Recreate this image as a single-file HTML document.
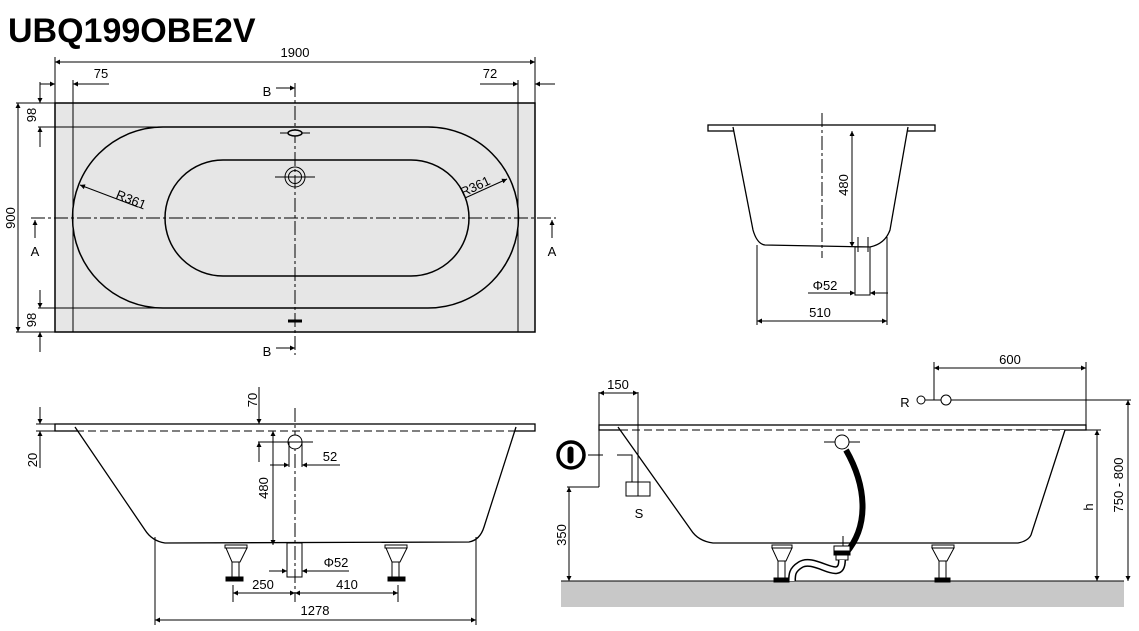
<!DOCTYPE html>
<html><head><meta charset="utf-8"><style>
html,body{margin:0;padding:0;background:#fff;}
svg{display:block;}
text{font-family:"Liberation Sans",sans-serif;font-size:13px;fill:#000;}
.t{font-family:"Liberation Sans",sans-serif;font-weight:bold;font-size:34px;}
</style></head><body>
<svg width="1139" height="631" viewBox="0 0 1139 631" xmlns="http://www.w3.org/2000/svg">
<defs>
<marker id="a" viewBox="0 0 10 10" refX="10" refY="5" markerWidth="7" markerHeight="5" orient="auto-start-reverse" markerUnits="userSpaceOnUse"><path d="M0,0 L10,5 L0,10 z" fill="#000"/></marker>
</defs>
<text x="8" y="42" class="t">UBQ199OBE2V</text>

<!-- TOP VIEW -->
<g stroke="#000" fill="none" stroke-width="1">
<rect x="55" y="103" width="480" height="229" fill="#e6e6e6" stroke-width="1.5"/>
<line x1="55" y1="57" x2="55" y2="103"/><line x1="535" y1="57" x2="535" y2="103"/>
<line x1="55" y1="62" x2="535" y2="62" marker-start="url(#a)" marker-end="url(#a)"/>
<line x1="73" y1="80" x2="73" y2="332"/><line x1="518" y1="80" x2="518" y2="332"/>
<line x1="40" y1="84" x2="55" y2="84" marker-end="url(#a)"/><line x1="109" y1="84" x2="73" y2="84" marker-end="url(#a)"/>
<line x1="480" y1="84" x2="518" y2="84" marker-end="url(#a)"/><line x1="555" y1="84" x2="535" y2="84" marker-end="url(#a)"/>
<path d="M163 127 H428 A90.5 90.5 0 0 1 428 308 H163 A90.5 90.5 0 0 1 163 127 Z" stroke-width="1.5"/>
<path d="M223 160 H411 A58 58 0 0 1 411 276 H223 A58 58 0 0 1 223 160 Z" stroke-width="1.5"/>
<line x1="38" y1="127" x2="163" y2="127"/><line x1="38" y1="308" x2="163" y2="308"/>
<line x1="40" y1="82" x2="40" y2="103" marker-end="url(#a)"/><line x1="40" y1="147" x2="40" y2="127" marker-end="url(#a)"/>
<line x1="40" y1="290" x2="40" y2="308" marker-end="url(#a)"/><line x1="40" y1="352" x2="40" y2="332" marker-end="url(#a)"/>
<line x1="16" y1="103" x2="55" y2="103"/><line x1="16" y1="332" x2="55" y2="332"/>
<line x1="18" y1="103" x2="18" y2="332" marker-start="url(#a)" marker-end="url(#a)"/>
<line x1="31" y1="218" x2="556" y2="218" stroke-dasharray="14,3,3,3"/>
<line x1="295" y1="83" x2="295" y2="355" stroke-dasharray="14,3,3,3"/>
<line x1="35" y1="238" x2="35" y2="220" marker-end="url(#a)"/><line x1="552" y1="238" x2="552" y2="220" marker-end="url(#a)"/>
<line x1="276" y1="88" x2="295" y2="88" marker-end="url(#a)"/><line x1="276" y1="348" x2="295" y2="348" marker-end="url(#a)"/>
<line x1="280" y1="133" x2="310" y2="133"/><ellipse cx="295" cy="133" rx="7" ry="3" fill="#e6e6e6" stroke-width="1.5"/>
<circle cx="295" cy="177" r="10"/><circle cx="295" cy="177" r="6.5"/><line x1="275" y1="177" x2="315" y2="177"/>
<line x1="288" y1="321" x2="302" y2="321" stroke-width="3"/>
<line x1="138" y1="207" x2="80" y2="185" marker-end="url(#a)"/>
<line x1="465" y1="198" x2="507" y2="179" marker-end="url(#a)"/>
</g>
<text x="295" y="57" text-anchor="middle" font-size="12">1900</text>
<text x="101" y="78" text-anchor="middle">75</text>
<text x="490" y="78" text-anchor="middle">72</text>
<text x="267" y="96" text-anchor="middle" font-size="17">B</text>
<text x="267" y="356" text-anchor="middle" font-size="17">B</text>
<text x="35" y="256" text-anchor="middle" font-size="17">A</text>
<text x="552" y="256" text-anchor="middle" font-size="17">A</text>
<text transform="translate(15,218) rotate(-90)" text-anchor="middle">900</text>
<text transform="translate(36,115) rotate(-90)" text-anchor="middle">98</text>
<text transform="translate(36,320) rotate(-90)" text-anchor="middle">98</text>
<text transform="translate(115,198) rotate(22)">R361</text>
<text transform="translate(463,197) rotate(-25)">R361</text>

<!-- SECTION B (top right) -->
<g stroke="#000" fill="none">
<rect x="708" y="125" width="227" height="6" fill="#fff" stroke-width="1.3"/>
<line x1="735" y1="131" x2="907" y2="131" stroke-dasharray="7,4"/>
<path d="M733 127 L753 230 Q757 244 765 245 L870 247 Q885 244 890 230 L908 127" fill="#fff" stroke-width="1.3"/>
<rect x="855" y="247" width="15" height="48" fill="#fff"/>
<line x1="858" y1="237" x2="858" y2="252"/><line x1="868" y1="237" x2="868" y2="252"/>
<line x1="822" y1="113" x2="822" y2="258" stroke-dasharray="14,3,3,3"/>
<line x1="852" y1="131" x2="852" y2="247" marker-start="url(#a)" marker-end="url(#a)"/>
<line x1="808" y1="293" x2="855" y2="293" marker-end="url(#a)"/><line x1="888" y1="293" x2="870" y2="293" marker-end="url(#a)"/>
<line x1="757" y1="245" x2="757" y2="325"/><line x1="887" y1="237" x2="887" y2="325"/>
<line x1="757" y1="321" x2="887" y2="321" marker-start="url(#a)" marker-end="url(#a)"/>
</g>
<text transform="translate(848,185) rotate(-90)" text-anchor="middle">480</text>
<text x="825" y="290" text-anchor="middle">Φ52</text>
<text x="820" y="317" text-anchor="middle">510</text>

<!-- SECTION A (bottom left) -->
<g stroke="#000" fill="none">
<rect x="55" y="424" width="480" height="7" fill="#fff" stroke-width="1.3"/>
<path d="M75 427 L145 530 Q152 541 165 543 L469 542 Q480 540 484 527 L516 427" fill="#fff" stroke-width="1.3"/>
<line x1="76" y1="431" x2="516" y2="431" stroke-dasharray="8,4"/>
<g fill="#fff">
<rect x="225" y="545" width="22" height="3"/><path d="M226 548 L247 548 L240 562 L232 562 Z"/><rect x="232" y="562" width="7" height="15"/><rect x="226" y="577" width="17" height="4" fill="#000"/>
<rect x="385" y="545" width="22" height="3"/><path d="M386 548 L407 548 L400 562 L392 562 Z"/><rect x="392" y="562" width="7" height="15"/><rect x="388" y="577" width="17" height="4" fill="#000"/>
<rect x="287" y="543" width="15" height="34"/>
</g>
<line x1="295" y1="408" x2="295" y2="602" stroke-dasharray="14,3,3,3"/>
<circle cx="295" cy="442" r="7" fill="#fff"/>
<line x1="289" y1="442" x2="289" y2="467"/><line x1="302" y1="442" x2="302" y2="467"/>
<line x1="258" y1="442" x2="313" y2="442"/>
<line x1="259" y1="387" x2="259" y2="424" marker-end="url(#a)"/><line x1="259" y1="462" x2="259" y2="442" marker-end="url(#a)"/>
<line x1="259" y1="424" x2="285" y2="424"/>
<line x1="36" y1="424" x2="55" y2="424"/><line x1="36" y1="431" x2="55" y2="431"/>
<line x1="40" y1="407" x2="40" y2="424" marker-end="url(#a)"/><line x1="40" y1="468" x2="40" y2="431" marker-end="url(#a)"/>
<line x1="270" y1="465" x2="289" y2="465" marker-end="url(#a)"/><line x1="340" y1="465" x2="302" y2="465" marker-end="url(#a)"/>
<line x1="273" y1="431" x2="273" y2="545" marker-start="url(#a)" marker-end="url(#a)"/>
<line x1="269" y1="571" x2="287" y2="571" marker-end="url(#a)"/><line x1="349" y1="571" x2="302" y2="571" marker-end="url(#a)"/>
<line x1="233" y1="585" x2="233" y2="602"/><line x1="398" y1="585" x2="398" y2="602"/>
<line x1="233" y1="593" x2="295" y2="593" marker-start="url(#a)" marker-end="url(#a)"/>
<line x1="295" y1="593" x2="398" y2="593" marker-start="url(#a)" marker-end="url(#a)"/>
<line x1="155" y1="537" x2="155" y2="625"/><line x1="476" y1="537" x2="476" y2="625"/>
<line x1="155" y1="620" x2="476" y2="620" marker-start="url(#a)" marker-end="url(#a)"/>
</g>
<text transform="translate(257,400) rotate(-90)" text-anchor="middle">70</text>
<text transform="translate(37,460) rotate(-90)" text-anchor="middle">20</text>
<text x="330" y="461" text-anchor="middle">52</text>
<text transform="translate(268,488) rotate(-90)" text-anchor="middle">480</text>
<text x="336" y="567" text-anchor="middle">Φ52</text>
<text x="263" y="589" text-anchor="middle">250</text>
<text x="347" y="589" text-anchor="middle">410</text>
<text x="315" y="615" text-anchor="middle">1278</text>

<!-- INSTALLATION VIEW (bottom right) -->
<g stroke="#000" fill="none">
<rect x="561" y="581" width="563" height="26" fill="#c8c8c8" stroke="none"/>
<line x1="561" y1="581" x2="1124" y2="581"/>
<rect x="599" y="425" width="487" height="5" fill="#fff" stroke-width="1.3"/>
<path d="M618 427 L691 530 Q698 541 713 543 L1018 543 Q1028 541 1031 535 L1065 430" fill="#fff" stroke-width="1.3"/>
<line x1="620" y1="430" x2="1064" y2="430" stroke-dasharray="8,4"/>
<line x1="599" y1="392" x2="599" y2="487"/><line x1="638" y1="392" x2="638" y2="496"/>
<line x1="599" y1="393" x2="638" y2="393" marker-start="url(#a)" marker-end="url(#a)"/>
<line x1="567" y1="487" x2="599" y2="487"/>
<line x1="569" y1="487" x2="569" y2="581" marker-start="url(#a)" marker-end="url(#a)"/>
<circle cx="571" cy="455" r="13" stroke-width="3.5"/>
<rect x="568" y="447" width="5" height="16" rx="2.5" fill="#000"/>
<line x1="588" y1="455" x2="603" y2="455"/>
<polyline points="617,455 632,455 632,482"/>
<rect x="626" y="482" width="24" height="14" fill="#fff"/><line x1="638" y1="482" x2="638" y2="496"/>
<line x1="824" y1="442" x2="860" y2="442"/>
<path d="M846 450 C866 485 870 525 846 553" stroke-width="6"/>
<circle cx="842" cy="442" r="7" fill="#fff"/>
<line x1="843" y1="536" x2="843" y2="548"/>
<rect x="834" y="546" width="16" height="5" fill="#fff"/><rect x="834" y="551" width="16" height="4" fill="#000"/><rect x="836" y="555" width="12" height="5" fill="#fff"/>
<path d="M842 560 C842 585 815 555 800 565 C792 570 792 575 792 581" stroke-width="8"/>
<path d="M842 560 C842 585 815 555 800 565 C792 570 792 575 792 581" stroke="#fff" stroke-width="5"/>
<g fill="#fff">
<rect x="772" y="545" width="20" height="3"/><path d="M772 548 L792 548 L786 561 L778 561 Z"/><rect x="778" y="561" width="7" height="17"/><rect x="774" y="578" width="15" height="4" fill="#000"/>
<rect x="932" y="545" width="22" height="3"/><path d="M932 548 L954 548 L947 561 L939 561 Z"/><rect x="939" y="561" width="7" height="17"/><rect x="935" y="578" width="15" height="4" fill="#000"/>
</g>
<line x1="1065" y1="430" x2="1101" y2="430"/>
<line x1="1097" y1="430" x2="1097" y2="581" marker-start="url(#a)" marker-end="url(#a)"/>
<line x1="946" y1="400" x2="1131" y2="400"/>
<line x1="1128" y1="400" x2="1128" y2="581" marker-start="url(#a)" marker-end="url(#a)"/>
<circle cx="921" cy="400" r="4" fill="#fff"/><circle cx="946" cy="400" r="5" fill="#fff"/>
<line x1="925" y1="400" x2="941" y2="400"/>
<line x1="934" y1="362" x2="934" y2="400"/><line x1="1086" y1="362" x2="1086" y2="425"/>
<line x1="934" y1="368" x2="1086" y2="368" marker-start="url(#a)" marker-end="url(#a)"/>
</g>
<text x="618" y="389" text-anchor="middle" font-size="12">150</text>
<text x="1010" y="364" text-anchor="middle" font-size="12">600</text>
<text x="905" y="407" text-anchor="middle" font-size="17">R</text>
<text x="639" y="518" text-anchor="middle" font-size="17">S</text>
<text transform="translate(566,535) rotate(-90)" text-anchor="middle" font-size="12">350</text>
<text transform="translate(1093,507) rotate(-90)" text-anchor="middle" font-size="12">h</text>
<text transform="translate(1123,485) rotate(-90)" text-anchor="middle" font-size="12">750 - 800</text>
</svg>
</body></html>
